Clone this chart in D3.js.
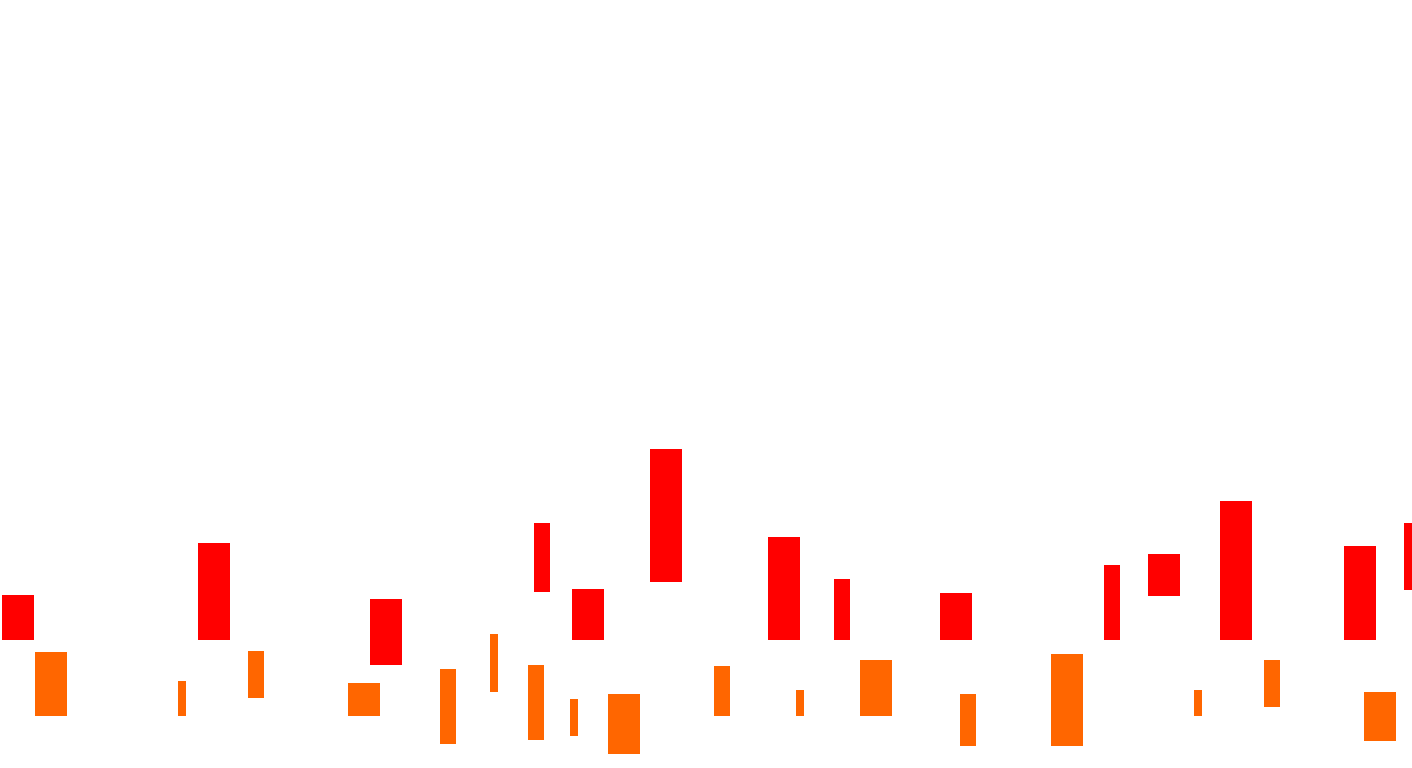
<!DOCTYPE html>
<html>
<head>
<meta charset="utf-8">
<script src="https://cdn.jsdelivr.net/npm/d3@7"></script>
<style>
  html, body { margin: 0; padding: 0; background: #fff; overflow: hidden; }
  svg { display: block; }
</style>
</head>
<body>
<svg id="chart" width="1412" height="768"></svg>
<script>
// Series A (red): bar centre, bar width, low value, high value
const redCenters = [18, 214, 386, 542, 588, 666, 784, 842, 956, 1112, 1164, 1236, 1360, 1412];
const redWidths  = [32, 32, 32, 16, 32, 32, 32, 16, 32, 16, 32, 32, 32, 16];
const redLow     = [128, 128, 103, 176, 128, 186, 128, 128, 128, 128, 172, 128, 128, 178];
const redHigh    = [173, 225, 169, 245, 179, 319, 231, 189, 175, 203, 214, 267, 222, 245];

// Series B (orange)
const orangeCenters = [51, 182, 256, 364, 448, 494, 536, 574, 624, 722, 800, 876, 968, 1067, 1198, 1272, 1380];
const orangeWidths  = [32, 8, 16, 32, 16, 8, 16, 8, 32, 16, 8, 32, 16, 32, 8, 16, 32];
const orangeLow     = [52, 52, 70, 52, 24, 76, 28, 32, 14, 52, 52, 52, 22, 22, 52, 61, 27];
const orangeHigh    = [116, 87, 117, 85, 99, 134, 103, 69, 74, 102, 78, 108, 74, 114, 78, 108, 76];

const W = 1412, H = 768;
const svg = d3.select("#chart");

const x = d3.scaleLinear().domain([0, W]).range([0, W]);
const y = d3.scaleLinear().domain([0, H]).range([H, 0]);

function build(c, w, lo, hi) {
  return c.map((v, i) => ({ c: v, w: w[i], lo: lo[i], hi: hi[i] }));
}

const series = [
  { data: build(redCenters, redWidths, redLow, redHigh), color: "#ff0000" },
  { data: build(orangeCenters, orangeWidths, orangeLow, orangeHigh), color: "#ff6600" }
];

series.forEach(s => {
  svg.append("g")
    .selectAll("rect")
    .data(s.data)
    .join("rect")
    .attr("x", d => x(d.c - d.w / 2))
    .attr("width", d => x(d.c + d.w / 2) - x(d.c - d.w / 2))
    .attr("y", d => y(d.hi))
    .attr("height", d => y(d.lo) - y(d.hi))
    .attr("fill", s.color)
    .attr("shape-rendering", "crispEdges");
});
</script>
</body>
</html>
